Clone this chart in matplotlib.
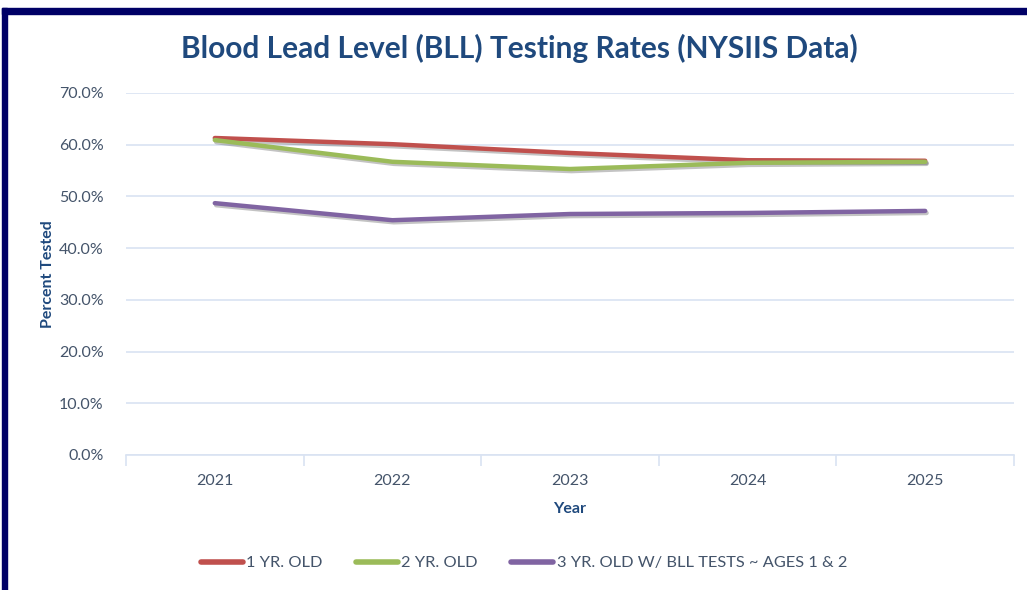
import matplotlib
matplotlib.use("Agg")
from matplotlib import pyplot as plt
from matplotlib import patheffects as pe
from matplotlib.ticker import FuncFormatter

years = ["2021", "2022", "2023", "2024", "2025"]
one_yr = [61.3, 60.1, 58.4, 57.0, 56.9]
two_yr = [60.9, 56.7, 55.3, 56.5, 56.7]
three_yr = [48.7, 45.4, 46.6, 46.8, 47.2]

labels = ["1 YR. OLD", "2 YR. OLD", "3 YR. OLD W/ BLL TESTS ~ AGES 1 & 2"]
COLOURS = ["#C0504D", "#9BBB59", "#8064A2"]
TEXT = "#44546A"
TITLE = "#1F497D"
FONT = "Lato"

fig = plt.figure(figsize=(10.27, 5.9), dpi=100)
ax = fig.add_axes([126 / 1027, 1 - 455 / 590, (1014 - 126) / 1027, (455 - 93) / 590])

# navy frame on top and left edges
fig.patches.append(plt.Rectangle((2 / 1027, 0), 5 / 1027, 1 - 8 / 590,
                                 transform=fig.transFigure, color="#000066", zorder=0))
fig.patches.append(plt.Rectangle((2 / 1027, 1 - 14 / 590), 1, 6 / 590,
                                 transform=fig.transFigure, color="#000066", zorder=0))

x = list(range(len(years)))
shadow = [pe.SimpleLineShadow(offset=(1, -1.5), alpha=0.35, shadow_color="#555555"), pe.Normal()]
for ys, lab, c in zip([one_yr, two_yr, three_yr], labels, COLOURS):
    ax.plot(x, ys, color=c, lw=3.2, solid_capstyle="round", label=lab,
            path_effects=shadow, zorder=3)

ax.set_xlim(-0.5, 4.5)
ax.set_ylim(0, 70)
ax.set_yticks(range(0, 71, 10))
ax.yaxis.set_major_formatter(FuncFormatter(lambda v, p: "%.1f%%" % v))
ax.set_xticks(x)
ax.set_xticklabels(years)
ax.set_xticks([i - 0.5 for i in range(len(years) + 1)], minor=True)

ax.grid(axis="y", color="#D9E3F2", lw=1.2)
ax.set_axisbelow(True)
for s in ["top", "right", "left"]:
    ax.spines[s].set_visible(False)
ax.spines["bottom"].set_color("#D9E3F2")
ax.spines["bottom"].set_linewidth(1.2)

ax.tick_params(axis="y", length=0, pad=16, labelsize=11.5, labelcolor=TEXT)
ax.tick_params(axis="x", which="major", length=0, pad=14, labelsize=11.5, labelcolor=TEXT)
ax.tick_params(axis="x", which="minor", length=8, width=1.2, color="#D9E3F2", direction="out")
for t in ax.get_xticklabels() + ax.get_yticklabels():
    t.set_fontfamily(FONT)

ax.set_xlabel("Year", fontsize=11.5, fontweight="bold", color=TITLE, fontfamily=FONT, labelpad=10)
ax.set_ylabel("Percent Tested", fontsize=11.5, fontweight="bold", color=TITLE, fontfamily=FONT, labelpad=3)

fig.text(0.506, 1 - 48 / 590, "Blood Lead Level (BLL) Testing Rates (NYSIIS Data)",
         ha="center", va="center", fontsize=21.5, fontweight="bold", color=TITLE, fontfamily=FONT)

leg = fig.legend(loc="center", bbox_to_anchor=(0.510, 1 - 563 / 590), ncol=3, frameon=False,
                 prop={"family": FONT, "size": 11.8}, handlelength=2.6, handletextpad=0.2,
                 columnspacing=2.0)
for t in leg.get_texts():
    t.set_color(TEXT)
for h in leg.get_lines():
    h.set_linewidth(4)
    h.set_path_effects([])

fig.savefig("out.png", dpi=100)
